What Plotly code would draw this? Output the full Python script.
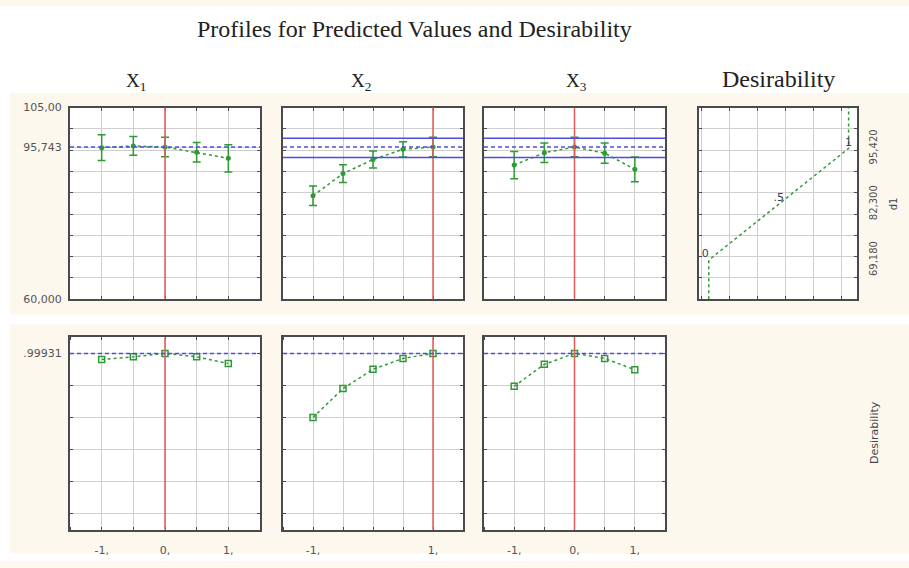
import plotly.graph_objects as go

# ---- data -------------------------------------------------------------
levels = [-1, -0.5, 0, 0.5, 1]

pred_x1 = [95.6, 96.0, 95.743, 94.5, 93.1]
ci_x1 = [3.0, 2.2, 2.3, 2.3, 3.2]
pred_x2 = [84.3, 89.5, 92.8, 95.2, 95.743]
ci_x2 = [2.3, 2.1, 2.0, 1.8, 2.3]
pred_x3 = [91.5, 94.4, 95.743, 94.3, 90.5]
ci_x3 = [3.2, 2.3, 2.3, 2.4, 2.9]

des_x1 = [0.962, 0.978, 0.99931, 0.978, 0.936]
des_x2 = [0.60, 0.78, 0.90, 0.968, 0.99931]
des_x3 = [0.794, 0.931, 0.99931, 0.968, 0.897]

current_settings = [0, 1, 0]
current_pred = 95.743
current_pred_band = [93.3, 97.8]
current_des = 0.99931

# desirability function for the response (value -> desirability)
des_levels = [0, 0, 0.5, 1, 1]
des_values = [60, 69.18, 82.3, 95.42, 105]
des_point_labels = ["0", ".5", "1"]

y_ticks_top = [60, 95.743, 105]
y_ticks_top_text = ["60,000", "95,743", "105,00"]
y_ticks_des = [69.18, 82.3, 95.42]
y_ticks_des_text = ["69,180", "82,300", "95,420"]
x_tick_text = {-1: "-1,", 0: "0,", 1: "1,"}

column_titles = ["X<sub>1</sub>", "X<sub>2</sub>", "X<sub>3</sub>", "Desirability"]
title = "Profiles for Predicted Values and Desirability"

# ---- layout geometry (pixels of a 909x568 page) -----------------------
W, H = 909, 568
col_px = [(70, 260), (283, 463), (484, 665), (699, 857)]
top_px = (104, 300)
bot_px = (339, 536)


def xd(a, b):
    return [a / W, b / W]


def yd(a, b):
    return [1 - b / H, 1 - a / H]


def sfx(k):
    return "" if k == 1 else str(k)


GREEN = "#2f9a34"
BLUE = "#4d4de6"
RED = "#e35a5a"
GRID = "#cfcfcf"
FRAME = "#4a4a4a"
CREAM = "#fdf8ee"
SANS = "DejaVu Sans, Verdana"
SERIF = "Liberation Serif, Times New Roman"
TICKFONT = dict(family=SANS, size=11, color="#555555")

fig = go.Figure()

preds = [pred_x1, pred_x2, pred_x3]
cis = [ci_x1, ci_x2, ci_x3]
dess = [des_x1, des_x2, des_x3]

for i in range(3):
    top = i + 1
    bot = i + 5
    fig.add_trace(go.Scatter(
        x=levels, y=preds[i], xaxis="x" + sfx(top), yaxis="y" + sfx(top),
        mode="lines+markers",
        line=dict(color=GREEN, width=1.5, dash="3px,3px"),
        marker=dict(symbol="circle", size=5, color=GREEN),
        error_y=dict(type="data", array=cis[i], color=GREEN, thickness=1.5, width=4),
        showlegend=False, hoverinfo="skip"))
    fig.add_trace(go.Scatter(
        x=levels, y=dess[i], xaxis="x" + sfx(bot), yaxis="y" + sfx(bot),
        mode="lines+markers",
        line=dict(color=GREEN, width=1.5, dash="3px,3px"),
        marker=dict(symbol="square-open", size=6, color=GREEN, line=dict(width=1.5)),
        showlegend=False, hoverinfo="skip"))

# desirability function curve and its labelled break points
fig.add_trace(go.Scatter(
    x=des_levels, y=des_values, xaxis="x4", yaxis="y4", mode="lines",
    line=dict(color=GREEN, width=1.5, dash="3px,3px"),
    showlegend=False, hoverinfo="skip"))
fig.add_trace(go.Scatter(
    x=des_levels[1:4], y=des_values[1:4], xaxis="x4", yaxis="y4",
    mode="text", text=des_point_labels,
    textposition=["top left", "top center", "top center"],
    textfont=dict(family=SANS, size=11, color="#3c3c55"),
    showlegend=False, hoverinfo="skip", cliponaxis=False))

layout = dict(
    width=W, height=H,
    margin=dict(l=0, r=0, t=0, b=0),
    paper_bgcolor=CREAM, plot_bgcolor="white",
    showlegend=False,
    shapes=[], annotations=[],
)


def frame_axis(**kw):
    base = dict(showline=True, linecolor=FRAME, linewidth=2, mirror="allticks",
                ticks="inside", ticklen=3, tickcolor=FRAME,
                showgrid=True, gridcolor=GRID, gridwidth=1,
                zeroline=False, tickfont=TICKFONT, fixedrange=True)
    base.update(kw)
    return base


def minor_grid(step, start):
    return dict(dtick=step, tick0=start, showgrid=True, gridcolor=GRID,
                ticks="inside", ticklen=3, tickcolor=FRAME)


for i in range(4):
    a, b = col_px[i]
    top = i + 1
    if i < 3:
        layout["xaxis" + sfx(top)] = frame_axis(
            domain=xd(a, b), anchor="y" + sfx(top), range=[-1.5, 1.5],
            tickvals=[], showticklabels=False, minor=minor_grid(0.5, 0))
        layout["yaxis" + sfx(top)] = frame_axis(
            domain=yd(*top_px), anchor="x" + sfx(top), range=[60, 105],
            tickvals=y_ticks_top if i == 0 else [],
            ticktext=y_ticks_top_text if i == 0 else [],
            showticklabels=(i == 0), ticks="", ticklabelstandoff=4,
            minor=minor_grid(5, 60))
        bot = i + 5
        cur = current_settings[i]
        xt = sorted(set([-1, cur, 1]))
        layout["xaxis" + sfx(bot)] = frame_axis(
            domain=xd(a, b), anchor="y" + sfx(bot), range=[-1.5, 1.5],
            tickvals=xt, ticktext=[x_tick_text[v] for v in xt], ticks="",
            ticklabelstandoff=9, minor=minor_grid(0.5, 0))
        layout["yaxis" + sfx(bot)] = frame_axis(
            domain=yd(*bot_px), anchor="x" + sfx(bot), range=[-0.1, 1.1],
            tickvals=[current_des] if i == 0 else [],
            ticktext=[".99931"] if i == 0 else [],
            showticklabels=(i == 0), ticks="", ticklabelstandoff=4,
            minor=minor_grid(0.2, 0))
    else:
        layout["xaxis4"] = frame_axis(
            domain=xd(a, b), anchor="y4", range=[-0.07, 1.06],
            tickvals=[], showticklabels=False, minor=minor_grid(0.2, 0.15))
        layout["yaxis4"] = frame_axis(
            domain=yd(*top_px), anchor="x4", range=[60, 105], side="right",
            tickvals=y_ticks_des, ticktext=y_ticks_des_text, tickangle=-90,
            tickfont=dict(family=SANS, size=10, color="#555555"),
            ticks="", showgrid=False, ticklabelstandoff=6,
            minor=minor_grid(5, 60))

shapes = layout["shapes"]
# white page strips around the cream panels
for (x0, y0, x1, y1) in [(0, 0, W, 89), (0, 316, W, 326), (0, 560, W, H), (0, 0, 10, H)]:
    shapes.append(dict(type="rect", xref="paper", yref="paper",
                       x0=x0 / W, x1=x1 / W, y0=1 - y1 / H, y1=1 - y0 / H,
                       fillcolor="white", line=dict(width=0), layer="below"))

for i in range(3):
    top = i + 1
    bot = i + 5
    cur = current_settings[i]
    for ax in (top, bot):
        shapes.append(dict(type="line", xref="x" + sfx(ax), yref="y" + sfx(ax) + " domain",
                           x0=cur, x1=cur, y0=0, y1=1,
                           line=dict(color=RED, width=1.5)))
    shapes.append(dict(type="line", xref="x" + sfx(top) + " domain", yref="y" + sfx(top),
                       x0=0, x1=1, y0=current_pred, y1=current_pred,
                       line=dict(color=BLUE, width=1.5, dash="4px,3px")))
    shapes.append(dict(type="line", xref="x" + sfx(bot) + " domain", yref="y" + sfx(bot),
                       x0=0, x1=1, y0=current_des, y1=current_des,
                       line=dict(color=BLUE, width=1.5, dash="4px,3px")))
    if i > 0:
        for v in current_pred_band:
            shapes.append(dict(type="line", xref="x" + sfx(top) + " domain", yref="y" + sfx(top),
                               x0=0, x1=1, y0=v, y1=v,
                               line=dict(color=BLUE, width=1.5)))

ann = layout["annotations"]
ann.append(dict(text=title, xref="paper", yref="paper", x=414 / W, y=1 - 24 / H,
                xanchor="center", yanchor="middle", showarrow=False,
                font=dict(family=SERIF, size=24, color="#222222")))
col_centers = [136, 361, 576, 778]
col_sizes = [19, 19, 19, 24]
col_y = [78, 78, 78, 75]
for t, cx, fs, cy in zip(column_titles, col_centers, col_sizes, col_y):
    ann.append(dict(text=t, xref="paper", yref="paper", x=cx / W, y=1 - cy / H,
                    xanchor="center", yanchor="middle", showarrow=False,
                    font=dict(family=SERIF, size=fs, color="#222222")))
ann.append(dict(text="d1", xref="paper", yref="paper", x=893 / W, y=1 - 203 / H,
                xanchor="center", yanchor="middle", textangle=-90, showarrow=False,
                font=dict(family=SANS, size=10, color="#444444")))
ann.append(dict(text="Desirability", xref="paper", yref="paper", x=875 / W, y=1 - 437 / H,
                xanchor="center", yanchor="middle", textangle=-90, showarrow=False,
                font=dict(family=SANS, size=11, color="#444444")))

fig.update_layout(**layout)
fig.write_html("out.html")
